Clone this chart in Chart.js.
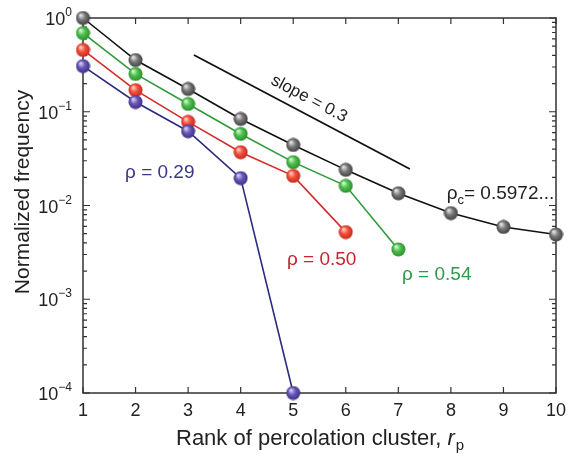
<!DOCTYPE html>
<html>
<head>
<meta charset="utf-8">
<script src="https://cdn.jsdelivr.net/npm/chart.js@4.4.1/dist/chart.umd.min.js"></script>
<style>
  html, body { margin: 0; padding: 0; background: #fff; }
  #wrap { width: 579px; height: 460px; }
</style>
</head>
<body>
<div id="wrap"><canvas id="percChart"></canvas></div>
<script>
// rank of percolation cluster
const ranks = [1, 2, 3, 4, 5, 6, 7, 8, 9, 10];
const xTicks = [1, 2, 3, 4, 5, 6, 7, 8, 9, 10];
const yDecades = [0, -1, -2, -3, -4];

// normalized frequency per occupation probability
const freqCritical = [1.0, 0.356, 0.175, 0.0837, 0.0442, 0.024, 0.0135, 0.0083, 0.0059, 0.0049];
const freq054 = [0.69, 0.253, 0.121, 0.058, 0.029, 0.0162, 0.0034];
const freq050 = [0.456, 0.17, 0.078, 0.037, 0.0207, 0.0052];
const freq029 = [0.307, 0.127, 0.062, 0.0196, 0.0001];

// reference slope line
const slopeX = [3.11, 7.22];
const slopeY = [0.403, 0.0245];

const FONT = '"Liberation Sans", Arial, Helvetica, sans-serif';

function toPoints(values) {
    return values.map((v, i) => ({ x: ranks[i], y: v }));
}

// little shaded ball used as point marker
function makeBall(base, light, dark) {
    const size = 15;
    const c = document.createElement('canvas');
    c.width = size;
    c.height = size;
    const g = c.getContext('2d');
    const grad = g.createRadialGradient(5, 4.5, 0.5, 7.5, 7.5, 7.5);
    grad.addColorStop(0, light);
    grad.addColorStop(0.45, base);
    grad.addColorStop(1, dark);
    g.fillStyle = grad;
    g.beginPath();
    g.arc(7.5, 7.5, 7, 0, Math.PI * 2);
    g.fill();
    return c;
}

const balls = {
    gray: makeBall('#7a7a7a', '#e6e6e6', '#3c3c3c'),
    green: makeBall('#4cc04c', '#d8f7d8', '#2a8a2a'),
    red: makeBall('#f5503a', '#ffd0c4', '#b8281c'),
    blue: makeBall('#6b58b8', '#d6d0f4', '#3a2c80')
};

function series(label, values, lineColor, ball) {
    return {
        label: label,
        data: toPoints(values),
        borderColor: lineColor,
        borderWidth: 1.6,
        pointStyle: ball,
        pointRadius: 7,
        pointHoverRadius: 7,
        fill: false,
        clip: false,
        tension: 0
    };
}

// frame, inward ticks, tick labels, titles and text notes
const decorations = {
    id: 'decorations',
    beforeDatasetsDraw(chart) {
        const ctx = chart.ctx;
        const xs = chart.scales.x;
        const ys = chart.scales.y;
        const a = chart.chartArea;
        ctx.save();
        ctx.strokeStyle = '#333';
        ctx.lineWidth = 1.5;
        ctx.strokeRect(a.left, a.top, a.right - a.left, a.bottom - a.top);

        // x ticks top and bottom
        ctx.lineWidth = 1.2;
        ctx.beginPath();
        xTicks.forEach(t => {
            const px = xs.getPixelForValue(t);
            ctx.moveTo(px, a.bottom);
            ctx.lineTo(px, a.bottom - 6);
            ctx.moveTo(px, a.top);
            ctx.lineTo(px, a.top + 6);
        });
        // y ticks, major and minor, left and right
        yDecades.forEach(d => {
            for (let m = 1; m <= 9; m++) {
                const v = m * Math.pow(10, d);
                if (v > 1.0001) continue;
                const py = ys.getPixelForValue(v);
                const len = m === 1 ? 7 : 4;
                ctx.moveTo(a.left, py);
                ctx.lineTo(a.left + len, py);
                ctx.moveTo(a.right, py);
                ctx.lineTo(a.right - len, py);
            }
        });
        ctx.stroke();
        ctx.restore();
    },
    afterDatasetsDraw(chart) {
        const ctx = chart.ctx;
        const xs = chart.scales.x;
        const ys = chart.scales.y;
        const a = chart.chartArea;
        ctx.save();

        // x tick labels
        ctx.fillStyle = '#222';
        ctx.font = '18px ' + FONT;
        ctx.textAlign = 'center';
        ctx.textBaseline = 'middle';
        xTicks.forEach(t => {
            ctx.fillText(String(t), xs.getPixelForValue(t), a.bottom + 18);
        });

        // y tick labels as 10^n
        yDecades.forEach(d => {
            const py = ys.getPixelForValue(Math.pow(10, d));
            const exp = String(d).replace('-', '\u2212');
            ctx.font = '12px ' + FONT;
            const ew = ctx.measureText(exp).width;
            ctx.textAlign = 'left';
            ctx.textBaseline = 'alphabetic';
            const right = a.left - 11;
            ctx.fillText(exp, right - ew, py - 2);
            ctx.font = '18px ' + FONT;
            ctx.textAlign = 'right';
            ctx.fillText('10', right - ew, py + 7);
        });

        // axis titles
        ctx.font = '21px ' + FONT;
        ctx.textAlign = 'center';
        ctx.textBaseline = 'middle';
        ctx.save();
        ctx.translate(23, 192);
        ctx.rotate(-Math.PI / 2);
        ctx.fillText('Normalized frequency', 0, 0);
        ctx.restore();

        const t1 = 'Rank of percolation cluster, ';
        ctx.font = '22px ' + FONT;
        const w1 = ctx.measureText(t1).width;
        ctx.font = 'italic 22px ' + FONT;
        const w2 = ctx.measureText('r').width;
        ctx.font = '15px ' + FONT;
        const w3 = ctx.measureText('p').width;
        let tx = 176;
        const ty = 445;
        ctx.textAlign = 'left';
        ctx.textBaseline = 'alphabetic';
        ctx.font = '22px ' + FONT;
        ctx.fillText(t1, tx, ty);
        tx += w1;
        ctx.font = 'italic 22px ' + FONT;
        ctx.fillText('r', tx, ty);
        tx += w2 + 1;
        ctx.font = '15px ' + FONT;
        ctx.fillText('p', tx, ty + 5);

        // notes placed in data units
        ctx.font = '19px ' + FONT;
        const note = (text, x, y, color) => {
            ctx.fillStyle = color;
            ctx.fillText(text, xs.getPixelForValue(x), ys.getPixelForValue(y));
        };
        note('\u03c1 = 0.29', 1.80, 0.0195, '#38378a');
        note('\u03c1 = 0.50', 4.88, 0.00232, '#c9222c');
        note('\u03c1 = 0.54', 7.07, 0.0016, '#2f9a4a');

        // rho_c label
        ctx.fillStyle = '#222';
        let cx = xs.getPixelForValue(7.92);
        const cy = ys.getPixelForValue(0.0117);
        ctx.fillText('\u03c1', cx, cy);
        cx += ctx.measureText('\u03c1').width;
        ctx.font = '13px ' + FONT;
        ctx.fillText('c', cx, cy + 5);
        cx += ctx.measureText('c').width;
        ctx.font = '19px ' + FONT;
        ctx.fillText('= 0.5972...', cx, cy);

        // slope label, rotated along the reference line
        const sx0 = xs.getPixelForValue(slopeX[0]);
        const sx1 = xs.getPixelForValue(slopeX[1]);
        const sy0 = ys.getPixelForValue(slopeY[0]);
        const sy1 = ys.getPixelForValue(slopeY[1]);
        const ang = Math.atan2(sy1 - sy0, sx1 - sx0);
        ctx.save();
        ctx.translate(xs.getPixelForValue(5.26), ys.getPixelForValue(0.124));
        ctx.rotate(ang);
        ctx.font = '17px ' + FONT;
        ctx.textAlign = 'center';
        ctx.fillText('slope = 0.3', 0, 0);
        ctx.restore();

        ctx.restore();
    }
};

const data = {
    datasets: [
        {
            label: 'slope',
            data: slopeX.map((x, i) => ({ x: x, y: slopeY[i] })),
            borderColor: '#111',
            borderWidth: 1.8,
            pointRadius: 0,
            fill: false
        },
        series('rho = 0.29', freq029, '#2b2b80', balls.blue),
        series('rho = 0.50', freq050, '#d42a2a', balls.red),
        series('rho = 0.54', freq054, '#2f9a3a', balls.green),
        series('rho_c', freqCritical, '#111', balls.gray)
    ]
};

const config = {
    type: 'line',
    data: data,
    options: {
        responsive: false,
        animation: false,
        layout: { padding: { top: 18, right: 23, left: 0, bottom: 0 } },
        plugins: {
            legend: { display: false },
            tooltip: { enabled: false }
        },
        scales: {
            x: {
                type: 'linear',
                min: 1,
                max: 10,
                grid: { display: false },
                border: { display: false },
                ticks: { display: false },
                afterFit: scale => { scale.height = 67; }
            },
            y: {
                type: 'logarithmic',
                min: 0.0001,
                max: 1,
                grid: { display: false },
                border: { display: false },
                ticks: { display: false },
                afterFit: scale => { scale.width = 83; }
            }
        }
    },
    plugins: [decorations]
};

const canvas = document.getElementById('percChart');
canvas.width = 579;
canvas.height = 460;
new Chart(canvas.getContext('2d'), config);
</script>
</body>
</html>
